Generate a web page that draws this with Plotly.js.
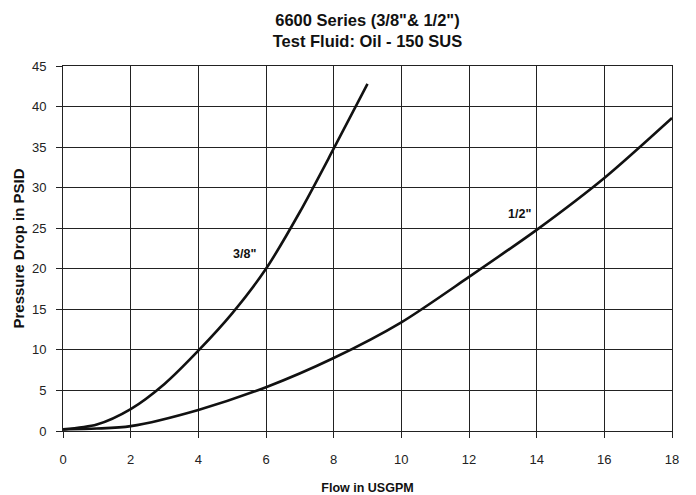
<!DOCTYPE html>
<html>
<head>
<meta charset="utf-8">
<script src="https://cdn.plot.ly/plotly-3.0.1.min.js"></script>
<style>html,body{margin:0;padding:0;background:#fff;}#chart{width:696px;height:495px;}</style>
</head>
<body>
<div id="chart"></div>
<script>
// Data
const flow38 = [0, 1, 2, 3, 4, 5, 6, 7, 8, 9];
const drop38 = [0.2, 0.8, 2.7, 5.8, 9.9, 14.5, 20.0, 27.0, 34.8, 42.8];
const flow12 = [0, 1, 2, 4, 6, 8, 10, 12, 14, 16, 18];
const drop12 = [0.2, 0.3, 0.6, 2.6, 5.4, 9.0, 13.4, 19.0, 24.8, 31.2, 38.6];
const xTicks = [0, 2, 4, 6, 8, 10, 12, 14, 16, 18];
const yTicks = [0, 5, 10, 15, 20, 25, 30, 35, 40, 45];
const labels = [
  {text: '3/8"', x: 5.37, y: 21.8},
  {text: '1/2"', x: 13.5, y: 26.7}
];

const font = 'Liberation Sans, Arial, Helvetica, sans-serif';
const lineStyle = {color: '#111', width: 2.6, shape: 'spline', smoothing: 0.8};

const traces = [
  {x: flow38, y: drop38, mode: 'lines', line: lineStyle, name: '3/8"', hoverinfo: 'skip'},
  {x: flow12, y: drop12, mode: 'lines', line: lineStyle, name: '1/2"', hoverinfo: 'skip'}
];

const layout = {
  width: 696, height: 495,
  paper_bgcolor: '#fff', plot_bgcolor: '#fff',
  margin: {l: 63, r: 24, t: 66, b: 64},
  showlegend: false,
  font: {family: font, color: '#222', size: 13},
  title: {
    text: '<b>6600 Series (3/8"& 1/2")<br>Test Fluid: Oil - 150 SUS</b>',
    font: {family: font, size: 16.5, color: '#111'},
    x: 0.528, xanchor: 'center', y: 0.948, yanchor: 'top'
  },
  xaxis: {
    range: [0, 18], tickvals: xTicks, ticktext: xTicks.map(String),
    showgrid: true, gridcolor: '#222', gridwidth: 1,
    zeroline: false, showline: true, linecolor: '#222', linewidth: 1, mirror: true,
    ticks: 'outside', ticklen: 6, tickcolor: '#222', ticklabelstandoff: 10,
    tickfont: {family: font, size: 13, color: '#222'},
    title: {text: '<b>Flow in USGPM</b>', font: {family: font, size: 12.5, color: '#111'}, standoff: 20}
  },
  yaxis: {
    range: [0, 45], tickvals: yTicks, ticktext: yTicks.map(String),
    showgrid: true, gridcolor: '#222', gridwidth: 1,
    zeroline: false, showline: true, linecolor: '#222', linewidth: 1, mirror: true,
    ticks: 'outside', ticklen: 6, tickcolor: '#222', ticklabelstandoff: 7,
    tickfont: {family: font, size: 13, color: '#222'},
    title: {text: '<b>Pressure Drop in PSID</b>', font: {family: font, size: 15, color: '#111'}, standoff: 3}
  },
  annotations: labels.map(l => ({
    text: '<b>' + l.text + '</b>', x: l.x, y: l.y, xref: 'x', yref: 'y',
    showarrow: false, font: {family: font, size: 12.5, color: '#111'},
    bgcolor: 'rgba(0,0,0,0)'
  }))
};

Plotly.newPlot('chart', traces, layout, {displayModeBar: false, staticPlot: true});
</script>
</body>
</html>
